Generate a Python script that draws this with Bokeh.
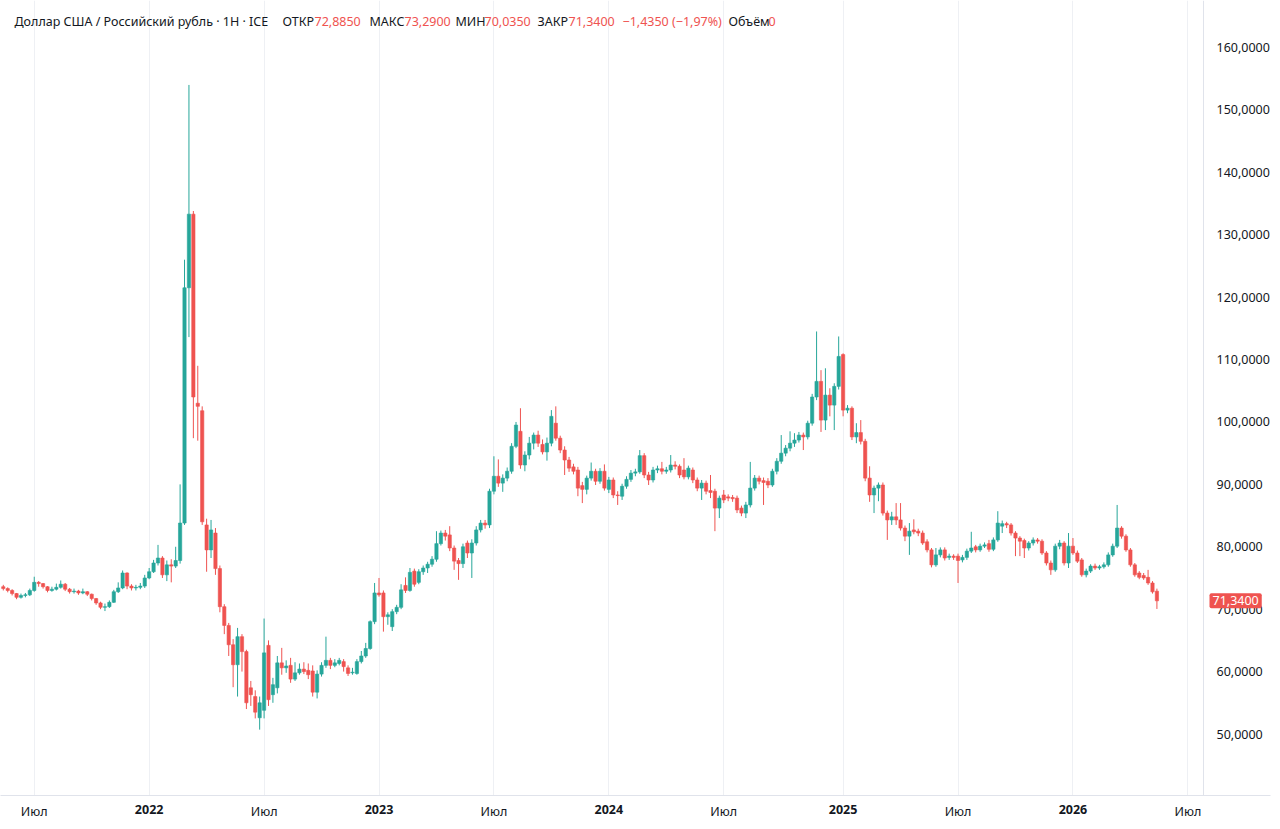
import numpy as np
import pandas as pd
from bokeh.plotting import figure
from bokeh.models import (ColumnDataSource, FixedTicker, CustomJSTickFormatter,
                          Label, Range1d, DatetimeAxis, Span)
from bokeh.embed import file_html
from bokeh.resources import INLINE

# ---------------- data (weekly USD/RUB candles) -------
first_week = "2021-05-17"

opens = [
    73.6, 73.3, 73.0, 72.5, 71.9, 72.2, 72.3, 73.0, 74.3, 74.1,
    73.6, 73.0, 73.2, 73.5, 74.0, 73.2, 72.8, 72.9, 72.6, 72.8,
    72.4, 71.7, 71.0, 70.3, 70.4, 71.1, 72.8, 73.4, 75.8, 73.7,
    73.4, 73.5, 73.7, 75.0, 76.0, 77.4, 78.2, 75.5, 77.1, 76.9,
    77.8, 83.8, 121.5, 133.3, 103.0, 101.8, 83.5, 79.5, 82.2, 76.5,
    70.4, 67.4, 64.3, 61.1, 65.6, 63.2, 57.4, 56.0, 52.6, 53.8,
    64.2, 56.3, 57.4, 61.4, 60.6, 61.0, 58.8, 59.8, 60.4, 60.2,
    60.1, 56.7, 59.6, 61.0, 61.8, 61.0, 61.3, 61.6, 60.6, 59.8,
    59.7, 61.6, 62.5, 63.7, 68.0, 72.6, 72.6, 68.8, 67.2, 69.6,
    70.3, 73.8, 73.0, 76.1, 74.3, 76.0, 76.6, 77.2, 78.0, 80.5,
    82.2, 81.9, 79.8, 77.8, 77.3, 80.6, 79.0, 80.6, 82.7, 83.8,
    83.5, 88.9, 91.3, 90.2, 91.0, 92.1, 96.1, 98.5, 93.1, 94.7,
    96.6, 97.9, 96.4, 95.2, 96.6, 99.8, 97.4, 95.5, 93.9, 92.8,
    92.3, 89.8, 89.2, 91.0, 92.1, 90.5, 92.1, 89.2, 90.7, 88.3,
    88.1, 89.7, 90.8, 91.8, 92.0, 94.6, 91.5, 90.7, 92.3, 92.5,
    92.1, 92.3, 93.1, 92.9, 92.3, 91.2, 92.3, 90.7, 89.4, 90.2,
    89.0, 88.9, 86.2, 88.3, 88.0, 87.9, 87.8, 86.2, 85.4, 86.7,
    89.4, 91.0, 90.6, 90.5, 89.9, 92.1, 93.7, 95.0, 95.8, 96.6,
    97.1, 97.9, 97.6, 99.8, 104.0, 106.5, 100.3, 104.3, 102.7, 105.7,
    110.8, 101.9, 102.2, 97.6, 98.3, 96.9, 91.0, 88.3, 89.4, 89.9,
    85.4, 84.3, 84.8, 84.3, 83.0, 81.7, 82.7, 82.5, 82.2, 80.8,
    79.5, 77.1, 78.7, 79.5, 78.3, 78.5, 78.5, 77.9, 78.3, 79.3,
    80.0, 79.5, 80.1, 80.5, 79.6, 81.1, 83.3, 83.7, 83.5, 82.2,
    81.4, 81.0, 79.8, 80.6, 81.1, 80.9, 79.0, 77.4, 76.3, 80.1,
    80.6, 77.4, 80.1, 79.0, 77.9, 75.5, 76.1, 76.9, 76.6, 76.8,
    77.1, 78.7, 80.1, 83.0, 81.7, 79.5, 77.1, 75.8, 75.4, 75.1,
    74.2, 72.885,
]

highs = [
    73.9, 73.5, 73.2, 72.6, 72.5, 72.6, 73.3, 75.2, 74.5, 74.2,
    73.7, 73.6, 74.1, 74.6, 74.2, 73.4, 73.3, 73.1, 73.3, 72.9,
    72.5, 71.8, 71.2, 70.9, 71.4, 73.1, 74.3, 76.2, 75.9, 74.0,
    73.9, 74.2, 75.5, 76.6, 77.9, 80.3, 78.5, 77.8, 78.0, 80.0,
    90.0, 126.0, 154.0, 133.8, 109.0, 102.5, 84.5, 84.3, 83.0, 77.0,
    70.8, 67.8, 65.2, 67.0, 66.0, 63.5, 58.5, 57.0, 56.0, 68.5,
    65.0, 59.0, 62.5, 63.8, 61.8, 62.2, 61.5, 61.3, 61.5, 61.3,
    61.0, 60.2, 61.5, 65.6, 62.2, 62.0, 62.2, 62.0, 61.0, 60.6,
    62.0, 63.3, 64.6, 68.2, 74.2, 75.0, 73.0, 69.5, 70.0, 70.7,
    74.0, 75.1, 76.6, 76.5, 76.4, 77.0, 77.6, 78.5, 82.5, 82.6,
    82.7, 83.3, 80.2, 78.2, 80.5, 81.0, 81.2, 83.3, 84.3, 84.3,
    89.3, 94.5, 94.0, 91.6, 92.7, 96.6, 100.0, 102.2, 95.3, 97.6,
    98.3, 98.6, 97.2, 97.5, 101.9, 102.5, 97.8, 96.1, 94.4, 93.3,
    92.8, 90.4, 91.4, 93.5, 92.5, 92.6, 93.2, 91.2, 91.1, 88.9,
    90.1, 91.3, 92.3, 92.5, 95.5, 95.0, 92.0, 92.8, 93.0, 93.6,
    92.8, 94.7, 93.7, 93.2, 94.2, 93.0, 92.7, 91.1, 90.7, 90.6,
    91.5, 89.3, 88.2, 89.1, 88.4, 88.3, 88.2, 86.6, 87.2, 93.6,
    91.5, 91.4, 91.1, 91.0, 92.5, 94.2, 97.9, 96.3, 98.5, 98.2,
    98.4, 98.3, 100.2, 104.5, 114.5, 108.3, 108.6, 105.4, 106.2, 113.7,
    111.0, 102.7, 102.5, 99.8, 100.3, 97.3, 92.9, 89.8, 90.3, 90.3,
    85.8, 85.6, 87.0, 87.0, 83.4, 83.8, 84.4, 82.9, 82.6, 81.2,
    79.8, 79.8, 79.9, 79.9, 78.9, 78.8, 78.9, 78.7, 79.7, 82.4,
    80.3, 80.5, 80.7, 81.1, 81.5, 85.7, 84.2, 84.0, 83.8, 82.5,
    81.7, 81.3, 80.9, 81.5, 81.4, 81.2, 79.3, 77.8, 80.5, 81.1,
    80.9, 82.2, 81.4, 79.4, 78.2, 76.5, 77.2, 77.3, 77.1, 77.5,
    79.1, 80.5, 86.7, 83.3, 82.0, 79.8, 77.4, 76.1, 75.8, 76.3,
    74.5, 73.29,
]

lows = [
    73.0, 72.7, 72.2, 71.6, 71.7, 71.9, 72.1, 72.8, 73.6, 73.3,
    72.7, 72.8, 73.0, 73.3, 72.9, 72.5, 72.5, 72.3, 72.4, 72.1,
    71.4, 70.7, 70.0, 69.7, 70.2, 71.0, 72.6, 73.2, 73.2, 73.0,
    73.0, 73.2, 73.4, 74.8, 75.8, 77.0, 75.0, 74.5, 74.3, 76.6,
    77.3, 83.5, 113.6, 97.4, 97.0, 83.5, 76.0, 78.2, 75.5, 69.5,
    66.0, 62.5, 57.5, 56.0, 60.0, 54.0, 54.5, 52.5, 50.7, 52.5,
    54.5, 55.0, 56.5, 59.5, 59.8, 58.2, 58.5, 59.5, 59.6, 58.8,
    56.0, 55.7, 59.2, 60.6, 60.4, 60.7, 61.0, 60.0, 59.3, 59.5,
    59.5, 61.3, 62.2, 63.5, 67.6, 72.0, 66.4, 67.5, 66.5, 69.2,
    70.0, 72.6, 72.8, 73.6, 74.0, 75.5, 75.8, 76.8, 77.6, 80.2,
    81.0, 79.3, 76.3, 74.7, 76.6, 78.2, 75.0, 80.2, 82.3, 82.9,
    83.0, 88.4, 89.6, 88.8, 90.5, 91.7, 95.8, 92.5, 92.1, 94.0,
    95.6, 96.0, 94.8, 93.8, 96.1, 97.0, 95.0, 91.5, 92.0, 91.6,
    88.1, 87.0, 88.4, 90.6, 89.9, 90.1, 89.0, 88.6, 87.8, 86.7,
    87.5, 89.3, 90.4, 91.3, 91.7, 91.0, 89.9, 90.3, 91.8, 91.6,
    91.7, 91.9, 92.4, 91.0, 90.8, 90.8, 90.2, 88.9, 87.5, 88.4,
    87.8, 82.5, 84.6, 87.0, 87.3, 87.2, 85.4, 84.9, 84.6, 86.3,
    89.0, 90.0, 86.7, 89.4, 89.6, 91.6, 93.3, 94.5, 95.3, 96.0,
    96.7, 95.5, 97.2, 99.4, 103.5, 98.4, 98.7, 100.9, 98.7, 105.2,
    100.9, 101.4, 97.1, 96.6, 96.4, 90.5, 87.2, 85.4, 87.3, 85.0,
    81.1, 83.5, 83.5, 82.6, 80.9, 78.7, 82.0, 81.7, 80.3, 79.1,
    76.7, 76.8, 78.3, 77.8, 77.9, 77.9, 74.2, 77.5, 77.9, 79.0,
    79.1, 79.2, 79.8, 79.2, 79.3, 80.8, 82.2, 83.0, 81.8, 78.5,
    78.5, 78.2, 79.4, 80.2, 80.5, 78.7, 77.0, 75.5, 76.0, 79.6,
    77.0, 76.6, 78.7, 77.4, 75.2, 75.1, 75.8, 76.3, 76.3, 76.5,
    76.8, 78.4, 79.8, 81.3, 79.2, 76.8, 75.2, 74.8, 74.7, 73.9,
    72.5, 70.035,
]

closes = [
    73.3, 73.0, 72.5, 71.9, 72.2, 72.3, 73.0, 74.3, 74.1, 73.6,
    73.0, 73.2, 73.5, 74.0, 73.2, 72.8, 72.9, 72.6, 72.8, 72.4,
    71.7, 71.0, 70.3, 70.4, 71.1, 72.8, 73.4, 75.8, 73.7, 73.4,
    73.5, 73.7, 75.0, 76.0, 77.4, 78.2, 75.5, 77.1, 76.9, 77.8,
    83.8, 121.5, 133.3, 104.0, 102.5, 84.0, 79.5, 82.7, 76.5, 70.4,
    67.4, 64.3, 61.1, 65.6, 63.2, 55.0, 56.3, 53.5, 55.0, 63.0,
    55.5, 57.9, 61.4, 60.6, 60.9, 58.8, 59.8, 60.4, 60.0, 59.5,
    56.7, 59.6, 61.0, 61.8, 61.0, 61.4, 61.8, 60.8, 59.7, 59.9,
    61.6, 62.5, 63.7, 68.0, 72.6, 72.3, 68.8, 69.1, 69.6, 70.3,
    73.1, 73.0, 75.9, 74.0, 76.0, 76.6, 77.2, 78.0, 80.5, 82.2,
    81.7, 79.8, 77.7, 77.3, 80.0, 79.0, 80.6, 82.7, 83.8, 83.5,
    88.9, 91.3, 90.2, 91.0, 92.1, 96.1, 99.5, 93.1, 94.7, 96.6,
    97.9, 96.6, 95.2, 96.6, 100.9, 97.4, 95.5, 93.9, 92.6, 92.1,
    89.4, 89.2, 91.0, 92.1, 90.5, 92.1, 89.4, 90.7, 88.3, 88.2,
    89.7, 90.8, 91.8, 92.0, 94.6, 91.5, 90.7, 92.3, 92.5, 92.1,
    92.3, 93.1, 92.9, 91.5, 91.2, 92.6, 90.7, 89.4, 90.2, 88.9,
    88.7, 86.2, 87.8, 87.5, 87.8, 87.7, 85.9, 85.4, 86.7, 89.4,
    91.0, 90.5, 90.3, 89.9, 92.1, 93.7, 95.0, 95.8, 96.6, 97.1,
    97.9, 97.6, 99.8, 104.0, 106.5, 100.3, 104.3, 102.7, 105.7, 110.5,
    101.9, 102.2, 97.6, 98.3, 96.9, 91.0, 88.3, 89.4, 89.9, 85.4,
    84.3, 84.8, 84.3, 83.0, 81.7, 82.5, 82.4, 82.2, 80.6, 79.5,
    77.1, 78.7, 79.5, 78.2, 78.5, 78.3, 77.8, 78.3, 79.3, 79.8,
    79.5, 80.1, 80.3, 79.6, 81.1, 83.8, 83.7, 83.5, 82.2, 81.4,
    80.9, 79.8, 80.6, 81.1, 80.9, 79.0, 77.4, 76.3, 80.1, 80.6,
    77.4, 80.1, 79.0, 77.7, 75.5, 76.1, 76.9, 76.6, 76.8, 77.1,
    78.7, 80.1, 83.0, 81.7, 79.5, 77.1, 75.5, 75.1, 75.0, 74.2,
    72.775, 71.34,
]

tick_dates = ["2021-07-05", "2022-01-03", "2022-07-04", "2023-01-02",
              "2023-07-03", "2024-01-01", "2024-07-01", "2025-01-06",
              "2025-07-07", "2026-01-05", "2026-07-06"]
tick_labels = ["Июл", "2022", "Июл", "2023", "Июл", "2024", "Июл", "2025",
               "Июл", "2026", "Июл"]
price_ticks = [50, 60, 70, 80, 90, 100, 110, 120, 130, 140, 150, 160]

title_text = "Доллар США / Российский рубль · 1Н · ICE"
volume_value = 0

# ---------------- styling ----------------
UP = "#26a69a"
DOWN = "#ef5350"
TEXT = "#131722"
LINE = "#e0e3eb"
FONT = "Noto Sans"

def fmt(v, nd=4):
    s = f"{abs(v):.{nd}f}".replace(".", ",")
    return ("−" + s) if v < 0 else s

t0 = pd.Timestamp(first_week)
dates = pd.date_range(t0, periods=len(closes), freq="7D")
o = np.array(opens); h = np.array(highs); l = np.array(lows); c = np.array(closes)
colors = np.where(c >= o, UP, DOWN)

WEEK_MS = 7 * 24 * 3600 * 1000
t0_ms = int(t0.value // 10**6)
PX_PER_WEEK = 4.42     # horizontal scale of the reference
X_FIRST = 2.8          # pixel of the first weekly bar

def px_to_ms(px):
    return t0_ms + (px - X_FIRST) / PX_PER_WEEK * WEEK_MS

src = ColumnDataSource(dict(
    x=dates, top=np.maximum(o, c), bottom=np.minimum(o, c),
    high=h, low=l, color=colors,
))

FRAME_W = 1270
p = figure(
    x_axis_type="datetime", y_axis_location="right",
    frame_width=FRAME_W, frame_height=795,
    x_range=Range1d(px_to_ms(0), px_to_ms(FRAME_W)),
    y_range=Range1d(40.146, 167.531),
    output_backend="svg", toolbar_location=None,
    min_border_left=0, min_border_top=0, min_border_right=10, min_border_bottom=0,
    background_fill_color="white", border_fill_color="white",
)
p.outline_line_color = None

p.segment(x0="x", y0="low", x1="x", y1="high", source=src, line_color="color", line_width=1)
p.vbar(x="x", width=0.74 * WEEK_MS, top="top", bottom="bottom", source=src,
       fill_color="color", line_color="color", line_width=0.6)

# price-scale separator line
p.add_layout(Span(location=px_to_ms(1203), dimension="height", line_color=LINE, line_width=1))

# x axis: month labels (regular) + a second axis for the bold year labels
tick_ms = [int(pd.Timestamp(d).value // 10**6) for d in tick_dates]
p.xaxis.ticker = FixedTicker(ticks=tick_ms)
p.xaxis.major_label_overrides = {t: (lab if lab == "Июл" else "") for t, lab in zip(tick_ms, tick_labels)}
p.xaxis.axis_line_color = LINE
p.xaxis.major_tick_line_color = None
p.xaxis.minor_tick_line_color = None
p.xaxis.major_tick_out = 0
p.xaxis.major_tick_in = 0
p.xaxis.major_label_standoff = 7
p.xaxis.major_label_text_font = FONT
p.xaxis.major_label_text_font_size = "12.5px"
p.xaxis.major_label_text_color = TEXT

year_ms = [t for t, lab in zip(tick_ms, tick_labels) if lab != "Июл"]
year_axis = DatetimeAxis(
    ticker=FixedTicker(ticks=year_ms),
    major_label_overrides={t: lab for t, lab in zip(tick_ms, tick_labels) if lab != "Июл"},
    axis_line_color=None, major_tick_line_color=None, minor_tick_line_color=None,
    major_tick_out=0, major_tick_in=0, major_label_standoff=-18,
    major_label_text_font=FONT, major_label_text_font_size="12.5px",
    major_label_text_font_style="bold", major_label_text_color=TEXT,
)
p.add_layout(year_axis, "below")

# y axis (labels pulled back onto the price scale)
p.yaxis.ticker = FixedTicker(ticks=price_ticks)
p.yaxis.formatter = CustomJSTickFormatter(code="return tick.toFixed(4).replace('.', ',');")
p.yaxis.axis_line_color = None
p.yaxis.major_tick_line_color = None
p.yaxis.minor_tick_line_color = None
p.yaxis.major_tick_out = 0
p.yaxis.major_tick_in = 0
p.yaxis.major_label_standoff = -54
p.yaxis.major_label_text_font = FONT
p.yaxis.major_label_text_font_size = "12.5px"
p.yaxis.major_label_text_color = TEXT

p.xgrid.grid_line_color = "#eef0f4"
p.ygrid.grid_line_color = None

# last price tag on the price scale
p.add_layout(Label(x=1209, y=closes[-1], x_units="screen", y_units="data",
                   text=fmt(closes[-1]), text_align="left", text_baseline="middle",
                   text_font=FONT, text_font_size="12.5px", text_color="white",
                   background_fill_color=DOWN, padding=3, border_radius=2))

# legend header
chg = closes[-1] - closes[-2]
pct = chg / closes[-2] * 100
pieces = [
    (title_text, 14, TEXT),
    ("ОТКР", 282, TEXT), (fmt(opens[-1]), 314, DOWN),
    ("МАКС", 369, TEXT), (fmt(highs[-1]), 404, DOWN),
    ("МИН", 455, TEXT), (fmt(lows[-1]), 484, DOWN),
    ("ЗАКР", 537, TEXT), (fmt(closes[-1]), 568, DOWN),
    (f"{fmt(chg)} ({fmt(pct, 2)}%)", 622, DOWN),
    ("Объём", 728, TEXT), (str(volume_value), 768, DOWN),
]
for txt, sx, col in pieces:
    p.add_layout(Label(x=sx, y=774, x_units="screen", y_units="screen", text=txt,
                       text_align="left", text_baseline="middle",
                       text_font=FONT, text_font_size="12.5px", text_color=col))

open("out.html", "w").write(file_html(p, INLINE))
